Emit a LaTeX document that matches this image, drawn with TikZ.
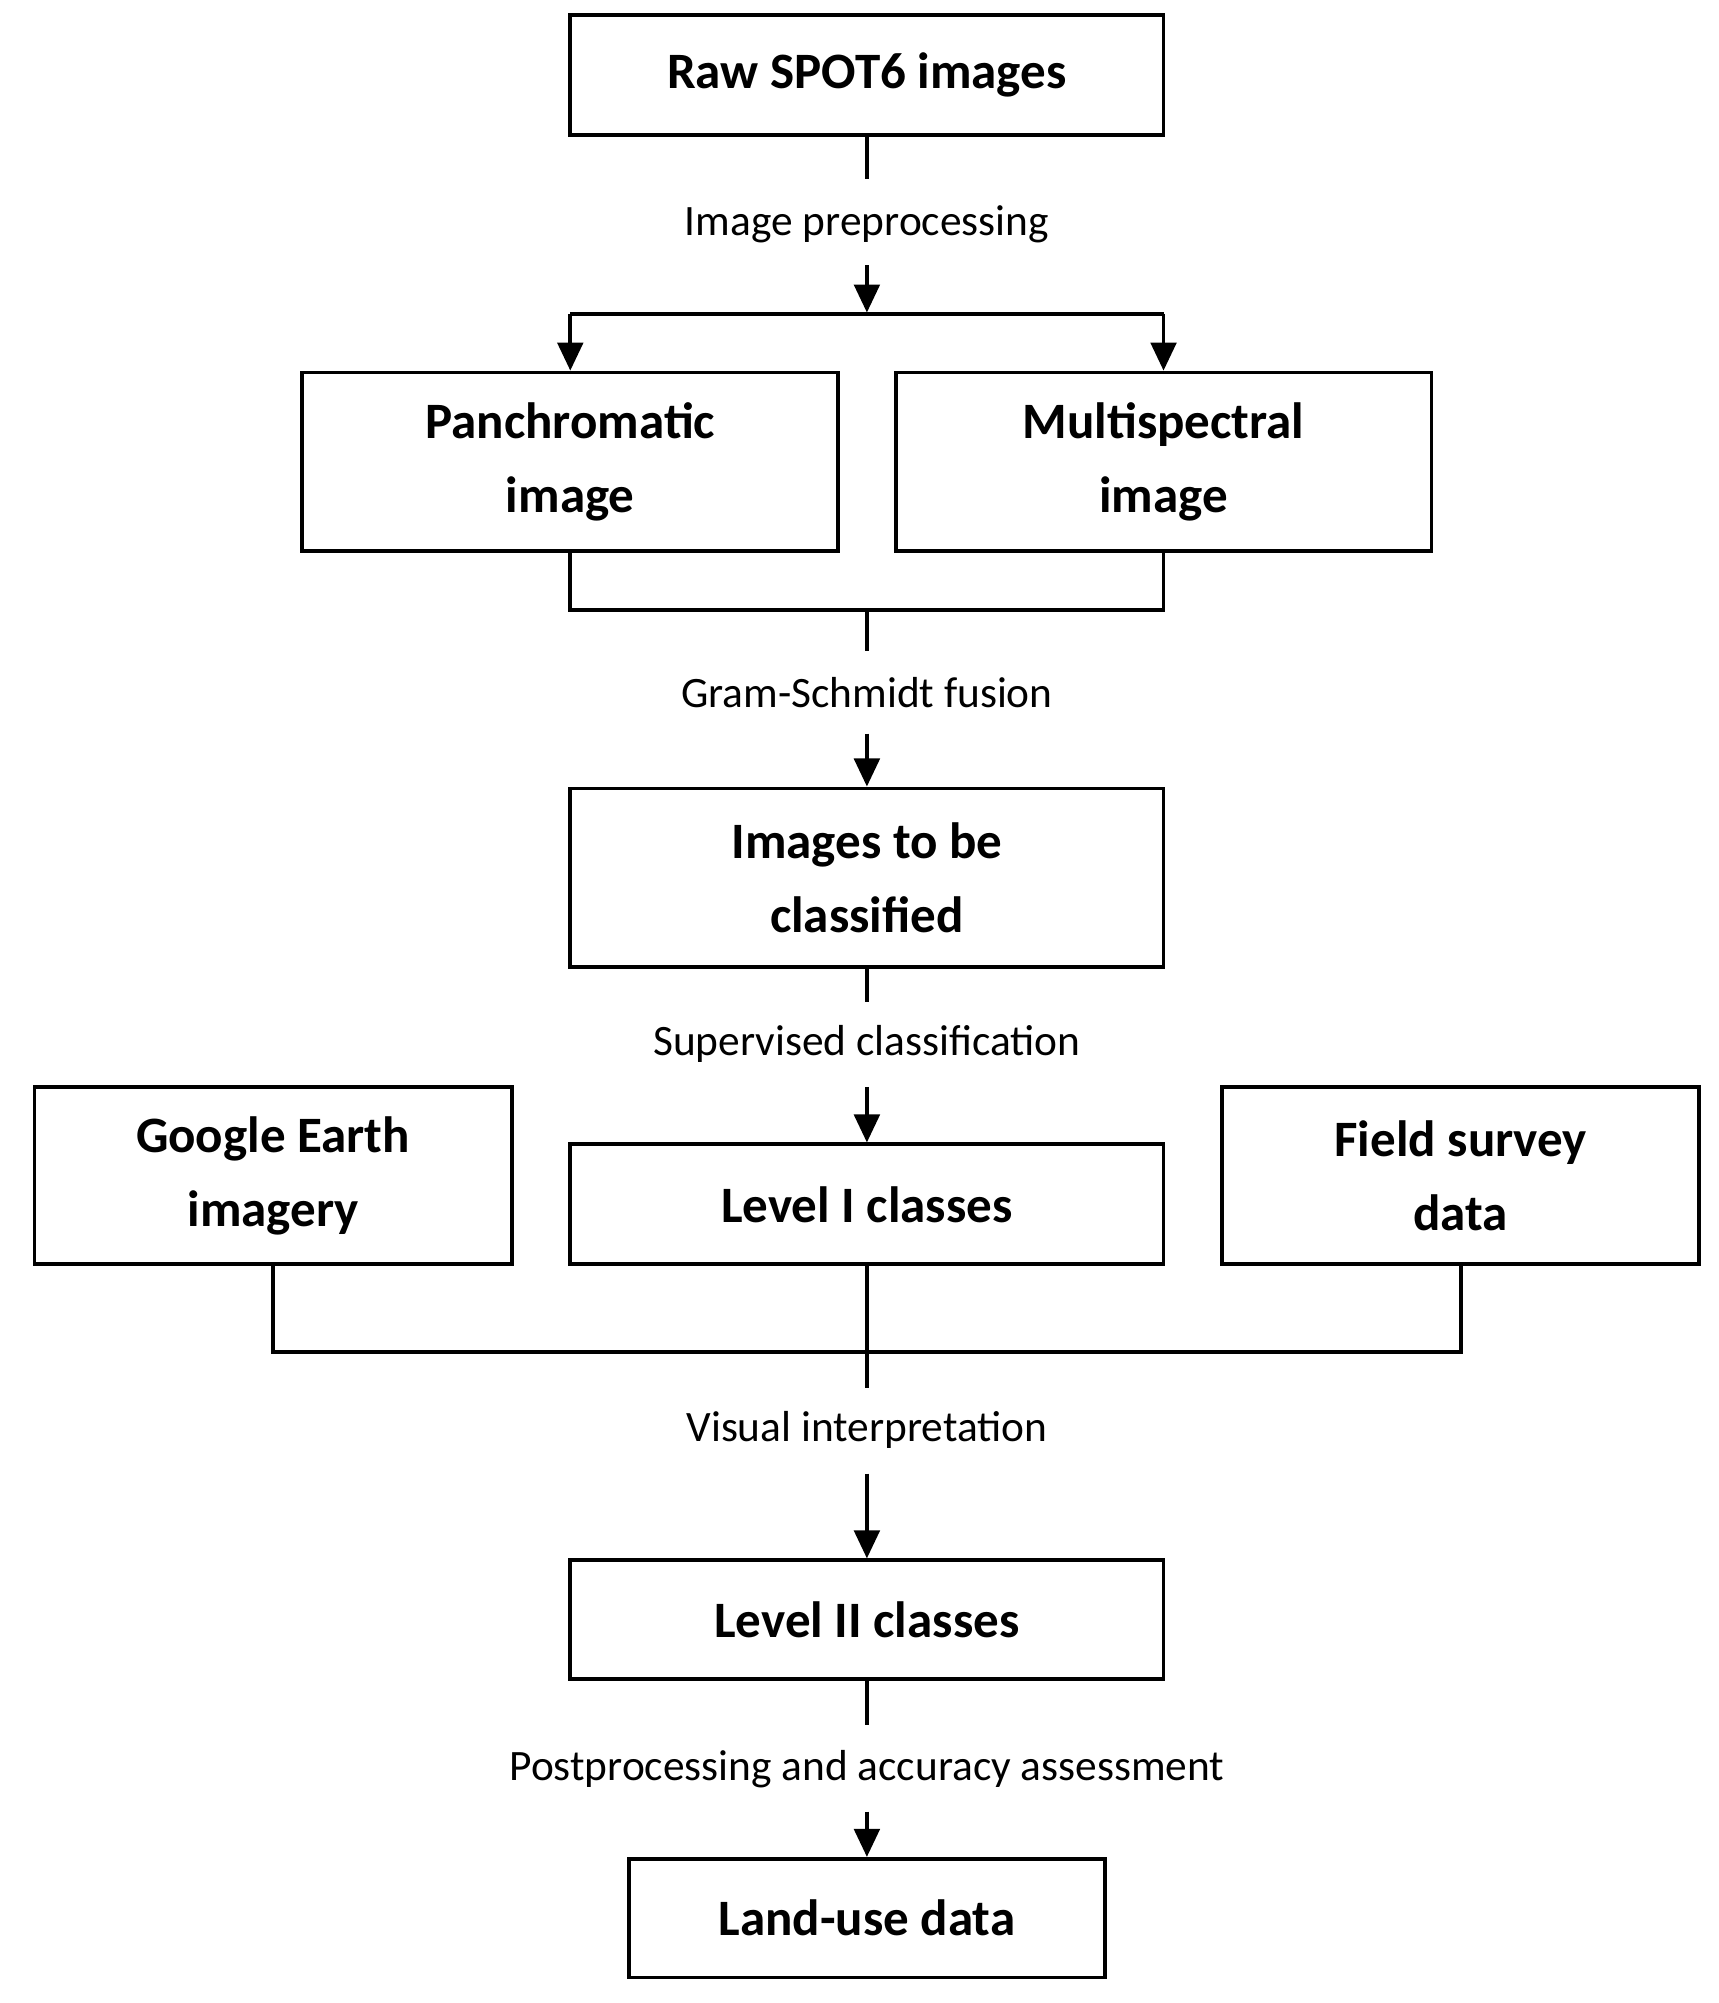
\documentclass[tikz,border=0pt]{standalone}
\usepackage{fontspec}
\setmainfont{Carlito}
\usetikzlibrary{arrows.meta}
\begin{document}
\begin{tikzpicture}[x=1pt,y=-1pt,
  box/.style={draw,line width=3pt,inner sep=0pt,font=\fontsize{40}{58}\selectfont\bfseries,align=center},
  lab/.style={font=\fontsize{34}{40}\selectfont,inner sep=0pt},
  ln/.style={line width=3pt},
  ar/.style={line width=3pt,-{Triangle[length=22pt,width=20pt]}}]
\useasboundingbox (0,0) rectangle (1347,1570);
\node[box,minimum width=465pt,minimum height=94pt] (raw) at (679.5,59) {Raw SPOT6 images};
\node[box,minimum width=420pt,minimum height=140pt] (pan) at (447,362) {Panchromatic\\image};
\node[box,minimum width=420pt,minimum height=140pt] (mul) at (912,362) {Multispectral\\image};
\node[box,minimum width=465pt,minimum height=140pt] (img) at (679.5,688) {Images to be\\classified};
\node[box,minimum width=465pt,minimum height=94pt] (l1) at (679.5,944) {Level I classes};
\node[box,minimum width=374pt,minimum height=139pt] (ge) at (214,921.5) {Google Earth\\imagery};
\node[box,minimum width=374pt,minimum height=139pt] (fs) at (1145,921.5) {Field survey\\data};
\node[box,minimum width=465pt,minimum height=93pt] (l2) at (679.5,1269.5) {Level II classes};
\node[box,minimum width=373pt,minimum height=93pt] (lu) at (679.5,1503.5) {Land-use data};
\node[lab] (t1) at (679.5,176) {Image preprocessing};
\node[lab] (t2) at (679.5,543) {Gram-Schmidt fusion};
\node[lab] (t3) at (679.5,818) {Supervised classification};
\node[lab] (t4) at (679.5,1121) {Visual interpretation};
\node[lab] (t5) at (679.5,1387) {Postprocessing and accuracy assessment};
\coordinate (s1) at (679.5,208);
\coordinate (j1) at (679.5,246);
\coordinate (j1l) at (447,246);
\coordinate (j1r) at (912,246);
\coordinate (j2) at (679.5,478);
\coordinate (j3) at (679.5,1060);
% raw -> split
\draw[ln] (raw.south) -- (679.5,140);
\draw[ar] (s1) -- (679.5,245);
\draw[ln] (j1l) -- (j1r);
\draw[ar] (j1l) -- (pan.north);
\draw[ar] (j1r) -- (mul.north);
% merge
\draw[ln] (pan.south) -- (447,478) -- (912,478) -- (mul.south);
\draw[ln] (j2) -- (679.5,510);
\draw[ar] (679.5,575) -- (img.north);
\draw[ln] (img.south) -- (679.5,785);
\draw[ar] (679.5,852) -- (l1.north);
\draw[ln] (ge.south) -- (214,1060) -- (1145,1060) -- (fs.south);
\draw[ln] (l1.south) -- (679.5,1088);
\draw[ar] (679.5,1155) -- (l2.north);
\draw[ln] (l2.south) -- (679.5,1352);
\draw[ar] (679.5,1420) -- (lu.north);
\end{tikzpicture}
\end{document}
